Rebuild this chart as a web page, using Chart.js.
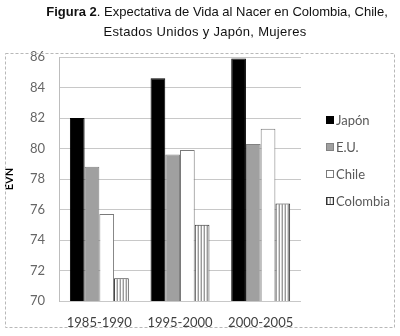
<!DOCTYPE html>
<html>
<head>
<meta charset="utf-8">
<script src="https://cdn.jsdelivr.net/npm/chart.js@4.4.1/dist/chart.umd.min.js"></script>
<style>
    body { margin: 0; background: #fff; }
    #wrap { position: relative; width: 400px; height: 336px; overflow: hidden; }
    .title { position: absolute; left: 0; width: 434px; text-align: center;
             font-family: "Liberation Sans", Arial, sans-serif; font-size: 13px;
             line-height: 15px; color: #111; white-space: nowrap; }
    #t1 { top: 4px; }
    #t2 { top: 24px; width: 410px; letter-spacing: 0.3px; }
    canvas { position: absolute; left: 0; top: 0; }
</style>
</head>
<body>
<div id="wrap">
    <canvas id="chart" width="400" height="336"></canvas>
    <div class="title" id="t1"><b>Figura 2</b>. Expectativa de Vida al Nacer en Colombia, Chile,</div>
    <div class="title" id="t2">Estados Unidos y Japón, Mujeres</div>
</div>
<script>
// Periods on the x axis
const periods = ['1985-1990', '1995-2000', '2000-2005'];
// Life expectancy (women) per country
const japon = [82.0, 84.6, 85.9];
const eeuu = [78.8, 79.6, 80.3];
const chile = [75.7, 79.9, 81.3];
const colombia = [71.5, 75.0, 76.4];
// y axis range
const yMin = 70;
const yMax = 86;
const yStep = 2;

// vertical stripe fill used for Colombia
function stripePattern() {
    let c = document.createElement('canvas');
    c.width = 3;
    c.height = 4;
    let g = c.getContext('2d');
    g.fillStyle = '#ffffff';
    g.fillRect(0, 0, 3, 4);
    g.fillStyle = '#9a9a9a';
    g.fillRect(0, 0, 1, 4);
    g.fillStyle = '#d4d4d4';
    g.fillRect(2, 0, 1, 4);
    return g.createPattern(c, 'repeat');
}

// dashed frame around the whole chart
const frame = {
    id: 'outerFrame',
    afterDraw(chart) {
        let ctx = chart.ctx;
        ctx.save();
        ctx.strokeStyle = '#b8b8b8';
        ctx.lineWidth = 1;
        ctx.setLineDash([3, 2]);
        ctx.strokeRect(5.5, 53.5, 389, 274);
        ctx.restore();
    }
};

// legend on the right, drawn from the datasets
const sideLegend = {
    id: 'sideLegend',
    afterDraw(chart) {
        let ctx = chart.ctx;
        ctx.save();
        ctx.font = '13px Lato, "Open Sans", sans-serif';
        ctx.textBaseline = 'middle';
        ctx.textAlign = 'left';
        chart.data.datasets.forEach((ds, i) => {
            let y = 120 + i * 27;
            ctx.fillStyle = ds.backgroundColor;
            ctx.fillRect(326, y - 4, 8, 8);
            ctx.strokeStyle = ds.borderColor;
            ctx.lineWidth = 1;
            ctx.strokeRect(326.5, y - 3.5, 7, 7);
            ctx.fillStyle = '#595959';
            ctx.fillText(ds.label, 336, y + 1);
        });
        ctx.restore();
    }
};

const ctx = document.getElementById('chart');
new Chart(ctx, {
    type: 'bar',
    data: {
        labels: periods,
        datasets: [
            { label: 'Japón', data: japon, backgroundColor: '#000000', borderColor: '#000000' },
            { label: 'E.U.', data: eeuu, backgroundColor: '#a0a0a0', borderColor: '#828282' },
            { label: 'Chile', data: chile, backgroundColor: '#ffffff', borderColor: '#7a7a7a' },
            { label: 'Colombia', data: colombia, backgroundColor: stripePattern(), borderColor: '#333333' }
        ]
    },
    options: {
        responsive: false,
        animation: false,
        layout: { padding: { left: 3, right: 99, top: 57, bottom: 5 } },
        datasets: {
            bar: { categoryPercentage: 0.73, barPercentage: 1, borderWidth: 1 }
        },
        plugins: {
            legend: { display: false },
            tooltip: { enabled: false }
        },
        scales: {
            x: {
                grid: { display: false, drawTicks: false },
                border: { display: false },
                ticks: {
                    padding: 14,
                    color: '#404040',
                    font: { family: 'Lato, "Open Sans", sans-serif', size: 13 }
                },
                afterFit(scale) {
                    scale.height = 30;
                }
            },
            y: {
                min: yMin,
                max: yMax,
                grid: { color: '#c8c8c8', drawTicks: false },
                border: { display: true, color: '#bdbdbd' },
                ticks: {
                    stepSize: yStep,
                    padding: 14,
                    color: '#666666',
                    font: { family: 'Lato, "Open Sans", sans-serif', size: 13 }
                },
                title: {
                    display: true,
                    text: 'EVN',
                    color: '#000000',
                    padding: { top: 0, bottom: 13 },
                    font: { family: 'Lato, "Open Sans", sans-serif', size: 11, weight: 'bold' }
                },
                afterFit(scale) {
                    scale.width = 56;
                }
            }
        }
    },
    plugins: [frame, sideLegend]
});
</script>
</body>
</html>
